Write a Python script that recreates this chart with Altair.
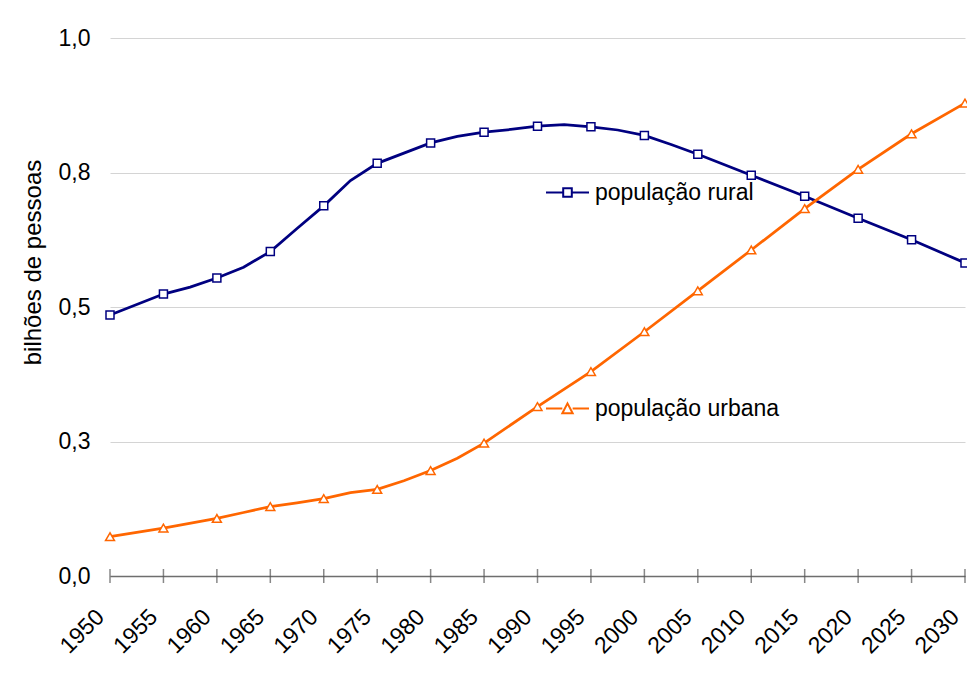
import altair as alt
import pandas as pd

# --- data (billions of people) ---
series_names = ["população rural", "população urbana"]
series_colors = ["#000080", "#FF6600"]

rural_years = [1950, 1955, 1957.5, 1960, 1962.5, 1965, 1967.5, 1970, 1972.5, 1975,
               1977.5, 1980, 1982.5, 1985, 1987.5, 1990, 1992.5, 1995, 1997.5, 2000,
               2002.5, 2005, 2010, 2015, 2020, 2025, 2030]
rural_values = [0.485, 0.524, 0.537, 0.554, 0.574, 0.603, 0.646, 0.688, 0.735, 0.767,
                0.786, 0.805, 0.817, 0.825, 0.830, 0.836, 0.839, 0.835, 0.829, 0.819,
                0.802, 0.784, 0.745, 0.706, 0.665, 0.625, 0.582]

urban_years = [1950, 1955, 1960, 1962.5, 1965, 1967.5, 1970, 1972.5, 1975, 1977.5,
               1980, 1982.5, 1985, 1990, 1995, 2000, 2005, 2010, 2015, 2020, 2025, 2030]
urban_values = [0.073, 0.089, 0.107, 0.118, 0.129, 0.136, 0.144, 0.155, 0.161, 0.177,
                0.196, 0.219, 0.247, 0.315, 0.380, 0.454, 0.530, 0.606, 0.683, 0.756,
                0.822, 0.879]

tick_years = list(range(1950, 2031, 5))
y_ticks = [0, 0.25, 0.5, 0.75, 1.0]

rows = []
for y, v in zip(rural_years, rural_values):
    rows.append({"ano": y, "valor": v, "serie": series_names[0]})
for y, v in zip(urban_years, urban_values):
    rows.append({"ano": y, "valor": v, "serie": series_names[1]})
df = pd.DataFrame(rows)
df_marks = df[df["ano"] % 5 == 0].reset_index(drop=True)
df_ticks = pd.DataFrame({"ano": tick_years})

FONT = "Liberation Sans"
FS = 23

x_scale = alt.Scale(domain=[1950, 2030], nice=False, zero=False)
x_enc = alt.X(
    "ano:Q",
    scale=x_scale,
    axis=alt.Axis(
        values=tick_years, format="d", title=None, grid=False, ticks=False,
        labelAngle=315, labelAlign="right", labelBaseline="middle",
        labelPadding=37, labelOffset=-10, labelOverlap=False, labelFlush=False,
        labelFont=FONT, labelFontSize=FS, labelColor="black",
        domainColor="#6e6e6e", domainWidth=1.5,
    ),
)
y_enc = alt.Y(
    "valor:Q",
    scale=alt.Scale(domain=[0, 1], nice=False),
    axis=alt.Axis(
        values=y_ticks, labelExpr="replace(format(datum.value, '.1f'), '.', ',')",
        domain=False, ticks=False, labelPadding=20,
        labelFont=FONT, labelFontSize=FS, labelColor="black",
        grid=True, gridColor="#d4d4d4", gridWidth=1,
        title="bilhões de pessoas", titleFont=FONT, titleFontSize=24,
        titleFontWeight="normal", titleColor="black",
        titleX=-77, titleY=224, titleAngle=270, titleBaseline="middle", titleAlign="center",
    ),
)

color_scale = alt.Scale(domain=series_names, range=series_colors)

ticks = alt.Chart(df_ticks).mark_tick(
    orient="vertical", size=14, thickness=1.5, color="#555555"
).encode(x=alt.X("ano:Q", scale=x_scale), y=alt.datum(0))

lines = alt.Chart(df).mark_line(strokeWidth=2.75).encode(
    x=x_enc, y=y_enc,
    color=alt.Color("serie:N", scale=color_scale, legend=None),
    detail="serie:N",
)

points = alt.Chart(df_marks).mark_point(
    fill="white", fillOpacity=1, strokeWidth=1.5, opacity=1
).encode(
    x="ano:Q", y="valor:Q",
    color=alt.Color("serie:N", scale=color_scale, legend=None),
    shape=alt.Shape("serie:N", scale=alt.Scale(domain=series_names,
                                               range=["square", "triangle-up"]), legend=None),
    size=alt.Size("serie:N", scale=alt.Scale(domain=series_names, range=[64, 80]), legend=None),
)

legend_paths = [
    "M-1,0H-0.2M0.2,0H1M-0.2,-0.2H0.2V0.2H-0.2Z",
    "M-1,0H-0.24M0.24,0H1M0,-0.24L0.24,0.22H-0.24Z",
]
legend_spec = alt.Legend(
    title=None, orient="none", legendX=435, legendY=132, direction="vertical",
    rowPadding=181, padding=0, labelLimit=0,
    labelFont=FONT, labelFontSize=FS, labelColor="black", labelOffset=5,
    symbolSize=1849, symbolStrokeWidth=2, symbolOpacity=1, symbolFillColor="white",
)
legend_layer = alt.Chart(df_marks).mark_point(opacity=0, fill="white").encode(
    x="ano:Q", y="valor:Q",
    color=alt.Color("serie:N", scale=color_scale, legend=legend_spec),
    shape=alt.Shape("serie:N", scale=alt.Scale(domain=series_names, range=legend_paths),
                    legend=legend_spec),
)

chart = (
    alt.layer(ticks, lines, points, legend_layer)
    .resolve_scale(color="independent", shape="independent")
    .properties(
        width=855, height=538,
        autosize=alt.AutoSizeParams(type="none"),
        padding={"left": 102, "top": 30, "right": 2, "bottom": 85},
        background="white",
    )
    .configure_view(stroke=None)
)

chart.save("out.html", embed_options={"renderer": "svg", "actions": False})
